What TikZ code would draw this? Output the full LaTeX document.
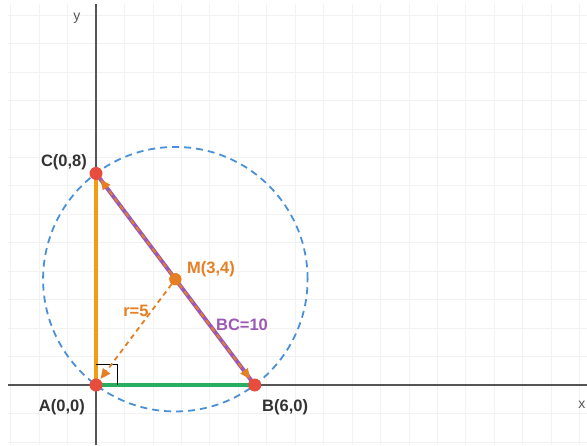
\documentclass[tikz,border=0pt]{standalone}
\usepackage{fontspec}
\setmainfont{Liberation Sans}
\usetikzlibrary{arrows.meta}
\definecolor{gridc}{HTML}{F2F2F2}
\definecolor{axisc}{HTML}{555555}
\definecolor{circc}{HTML}{4A90D9}
\definecolor{acc}{HTML}{F39C12}
\definecolor{abc}{HTML}{27AE60}
\definecolor{bcc}{HTML}{9B59B6}
\definecolor{mc}{HTML}{E67E22}
\definecolor{ptc}{HTML}{E74C3C}
\definecolor{txt}{HTML}{333333}
\tikzset{
  dot/.style={circle,fill=ptc,inner sep=0pt,minimum size=13pt},
  mdot/.style={circle,fill=mc,inner sep=0pt,minimum size=12pt},
  ptlabel/.style={text=txt,font=\bfseries\fontsize{16.5}{19}\selectfont},
  side/.style={line width=4pt},
  rdash/.style={draw=mc,dashed,dash pattern=on 5pt off 4pt,line width=1.8pt,
    -{Triangle[length=10pt,width=9pt]},shorten >=1pt},
  axl/.style={text=axisc,font=\fontsize{14}{16}\selectfont}
}
\begin{document}
\begin{tikzpicture}[x=26.45pt,y=26.45pt]
\useasboundingbox (-3.6295,-2.2684) rectangle (18.563,14.556);
% grid
\draw[gridc,line width=0.8pt] (-3.33,-2.2684) grid (18.563,14.4);
% axes
\draw[axisc,line width=1.4pt] (-3.33,0) -- (18.563,0);
\draw[axisc,line width=1.4pt] (0,-2.2684) -- (0,14.4);
\node[axl] (ylab) at (-0.72,13.88) {y};
\node[axl] (xlab) at (18.37,-0.76) {x};
% points
\coordinate (Ac) at (0,0);
\coordinate (Bc) at (6,0);
\coordinate (Cc) at (0,8);
\coordinate (Mc) at (3,4);
% circumcircle
\draw[circc,line width=1.8pt,dash pattern=on 7pt off 5pt] (Mc) circle (5);
% sides
\draw[side,acc] (Ac) -- (Cc);
\draw[side,abc] (Ac) -- (Bc);
\draw[side,bcc] (Bc) -- (Cc);
% right angle
\draw[black,line width=1.1pt] (0,0.78) -- (0.8,0.78) -- (0.8,0);
% dots
\node[dot] (A) at (Ac) {};
\node[dot] (B) at (Bc) {};
\node[dot] (C) at (Cc) {};
\node[mdot] (M) at (Mc) {};
% dashed arrows
\draw[rdash] (M) -- (C);
\draw[rdash] (M) -- (B);
\draw[rdash] (M) -- (A);
\node[mdot] at (Mc) {};
% labels
\node[ptlabel] (lC) at (-1.21,8.43) {C(0,8)};
\node[ptlabel] (lA) at (-1.29,-0.83) {A(0,0)};
\node[ptlabel] (lB) at (7.15,-0.83) {B(6,0)};
\node[ptlabel,text=mc] (lM) at (4.35,4.39) {M(3,4)};
\node[ptlabel,text=mc] (lr) at (1.51,2.80) {r=5};
\node[ptlabel,text=bcc] (lbc) at (5.52,2.27) {BC=10};
\end{tikzpicture}
\end{document}
